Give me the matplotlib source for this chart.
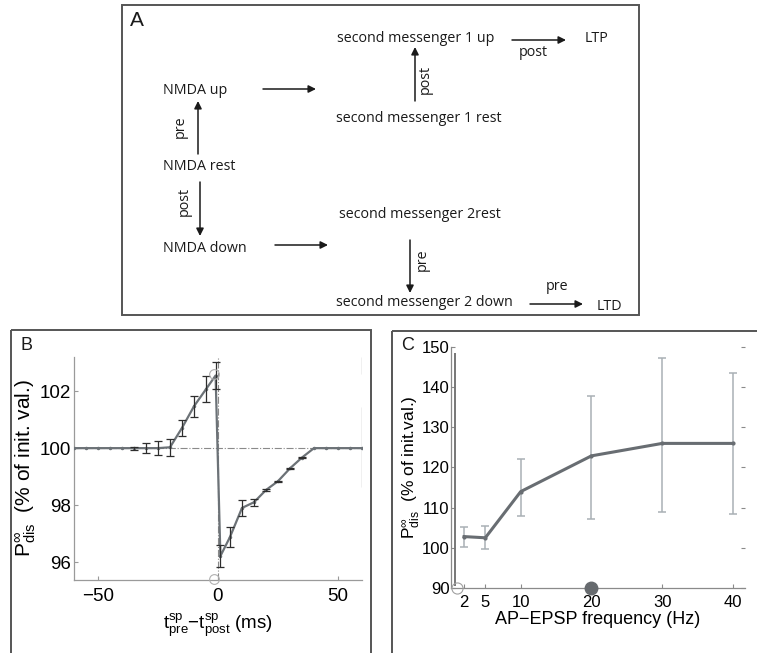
import matplotlib
matplotlib.use("Agg")
import matplotlib.pyplot as plt
from matplotlib.patches import Rectangle

plt.rcParams['font.family'] = ['Liberation Sans', 'DejaVu Sans']
plt.rcParams['mathtext.fontset'] = 'custom'
plt.rcParams['mathtext.rm'] = 'Liberation Sans'
plt.rcParams['mathtext.it'] = 'Liberation Sans:italic'

# panel B: spike timing dependence
t_diff = [-60, -55, -50, -45, -40, -35, -30, -25, -20, -15, -10, -5, -1,
          1, 5, 10, 15, 20, 25, 30, 35, 40, 45, 50, 55, 60]
p_timing = [100, 100, 100, 100, 100, 100.0, 100.0, 100.0, 100.03, 100.71, 101.47, 102.07, 102.55,
            96.21, 96.88, 97.9, 98.1, 98.53, 98.84, 99.29, 99.67, 100, 100, 100, 100, 100]
err_timing = [0, 0, 0, 0, 0, 0.05, 0.17, 0.25, 0.3, 0.29, 0.37, 0.46, 0.46,
              0.4, 0.36, 0.29, 0.13, 0.02, 0.02, 0.02, 0.02, 0, 0, 0, 0, 0]
b_ticks_x = [-50, 0, 50]
b_ticks_y = [96, 98, 100, 102]

# panel C: frequency dependence
freq = [2, 5, 10, 20, 30, 40]
p_freq = [102.8, 102.5, 114.0, 122.9, 126.0, 126.0]
err_lo = [2.5, 2.8, 6.0, 15.6, 17.2, 17.7]
err_hi = [2.4, 3.0, 8.2, 15.0, 21.3, 17.6]
c_ticks_y = [90, 100, 110, 120, 130, 140, 150]

W, H = 757, 653
fig = plt.figure(figsize=(W / 100, H / 100), dpi=100)

# ---- background layer in pixel units: boxes and diagram A ----
bg = fig.add_axes([0, 0, 1, 1])
bg.set_xlim(0, W)
bg.set_ylim(H, 0)
bg.axis('off')
box = dict(fill=False, ec='#555555', lw=1.4)
bg.add_patch(Rectangle((122, 5), 517, 310, **box))
bg.add_patch(Rectangle((11, 330), 360, 330, **box))
bg.add_patch(Rectangle((392, 331), 380, 330, **box))

dfont = dict(family=['Open Sans', 'DejaVu Sans'], fontsize=10.3, color='#1a1a1a')
bg.text(130, 20, 'A', fontsize=15, va='center', color='#1a1a1a')
bg.text(20, 345, 'B', fontsize=13, va='center', color='#1a1a1a')
bg.text(401, 345, 'C', fontsize=13, va='center', color='#1a1a1a')

labels = [
    (337, 39, 'second messenger 1 up'),
    (585, 38, 'LTP'),
    (336, 119, 'second messenger 1 rest'),
    (163, 91, 'NMDA up'),
    (163, 167, 'NMDA rest'),
    (163, 248, 'NMDA down'),
    (339, 215, 'second messenger 2rest'),
    (336, 303, 'second messenger 2 down'),
    (597, 306, 'LTD'),
]
for x, y, s in labels:
    bg.text(x, y, s, ha='left', va='center', **dfont)

arrows = [
    ((512, 40), (566, 40)),
    ((415, 101), (415, 47)),
    ((263, 89), (316, 89)),
    ((198, 154), (198, 101)),
    ((200, 182), (200, 236)),
    ((275, 245), (328, 245)),
    ((410, 240), (410, 293)),
    ((530, 304), (583, 304)),
]
for (x0, y0), (x1, y1) in arrows:
    bg.annotate('', xy=(x1, y1), xytext=(x0, y0),
                arrowprops=dict(arrowstyle='-|>', color='#1a1a1a', lw=1.1,
                                mutation_scale=11, shrinkA=0, shrinkB=0))

bg.text(533, 53, 'post', ha='center', va='center', **dfont)
bg.text(557, 287, 'pre', ha='center', va='center', **dfont)
bg.text(425, 80, 'post', rotation=90, ha='center', va='center', **dfont)
bg.text(180, 127, 'pre', rotation=90, ha='center', va='center', **dfont)
bg.text(184, 202, 'post', rotation=90, ha='center', va='center', **dfont)
bg.text(422, 260, 'pre', rotation=90, ha='center', va='center', **dfont)

# ---- panel B ----
axb = fig.add_axes([74 / W, 1 - 580 / H, 288 / W, 223 / H])
axb.set_xlim(-60, 60)
axb.set_ylim(95.37, 103.2)
axb.axhline(100, color='#8a8a8a', lw=0.8, ls='-.', zorder=1)
axb.axvline(0, color='#8a8a8a', lw=0.8, ls='-.', zorder=1)
axb.plot(t_diff, p_timing, color='#6c7277', lw=1.6, marker='.', ms=3, zorder=3)
inner = [i for i, t in enumerate(t_diff) if -35 <= t <= 35]
axb.errorbar([t_diff[i] for i in inner], [p_timing[i] for i in inner],
             yerr=[err_timing[i] for i in inner], fmt='none', ecolor='#2e2e2e',
             elinewidth=0.9, capsize=3.2, capthick=0.9, zorder=4)
axb.plot([-1.5, -1.5], [95.4, 102.6], ls='none', marker='o', ms=7, mfc='none',
         mec='#b0b0b0', mew=0.8, clip_on=False, zorder=5)
axb.vlines([60, 60], [102.6, 98.65], [103.2, 101.45], color='#8a8a8a', lw=0.9)
for s in ['top', 'right']:
    axb.spines[s].set_visible(False)
for s in ['left', 'bottom']:
    axb.spines[s].set_color('#9a9a9a')
    axb.spines[s].set_linewidth(0.9)
axb.set_xticks(b_ticks_x)
axb.set_yticks(b_ticks_y)
axb.tick_params(axis='y', direction='in', length=3, color='#9a9a9a', labelsize=13.5, pad=2)
axb.tick_params(axis='x', direction='in', length=3, color='#9a9a9a', labelsize=13.5, pad=6)
axb.set_ylabel(r'$\mathrm{P}^{\infty}_{\mathrm{dis}}$  (% of init. val.)', fontsize=15, labelpad=1)
axb.set_xlabel(r'$\mathrm{t}^{\mathrm{sp}}_{\mathrm{pre}}\mathrm{-t}^{\mathrm{sp}}_{\mathrm{post}}$ (ms)',
               fontsize=13.5, labelpad=4)

# ---- panel C ----
axc = fig.add_axes([451 / W, 1 - 588 / H, 294 / W, 241 / H])
axc.set_xlim(0.15, 41.7)
axc.set_ylim(90, 150)
axc.errorbar(freq, p_freq, yerr=[err_lo, err_hi], fmt='none', ecolor='#a9b0b5',
             elinewidth=1.1, capsize=2.6, capthick=1.1, zorder=2)
axc.plot(freq, p_freq, color='#686d72', lw=2.2, marker='.', ms=4, zorder=3)
axc.vlines(0.75, 90.6, 148.5, color='#777777', lw=1.4)
axc.plot([1.0], [90], ls='none', marker='o', ms=8, mfc='none', mec='#a0a0a0',
         mew=0.8, clip_on=False, zorder=5)
axc.plot([20], [90], ls='none', marker='o', ms=9, color='#666a6e', clip_on=False, zorder=5)
axc.spines['top'].set_visible(False)
axc.spines['right'].set_visible(False)
for s in ['left', 'bottom']:
    axc.spines[s].set_color('#8a8a8a')
    axc.spines[s].set_linewidth(0.9)
axc.set_xticks(freq)
axc.set_yticks(c_ticks_y)
axc.tick_params(axis='y', direction='in', length=3, color='#8a8a8a', labelsize=12, pad=1,
                right=True)
axc.tick_params(axis='x', direction='in', length=3, color='#8a8a8a', labelsize=12, pad=5)
axc.set_ylabel(r'$\mathrm{P}^{\infty}_{\mathrm{dis}}$  (% of init.val.)', fontsize=12.5, labelpad=0)
axc.set_xlabel('AP\u2212EPSP frequency (Hz)', fontsize=13, labelpad=1)

fig.savefig('out.png', dpi=100)
